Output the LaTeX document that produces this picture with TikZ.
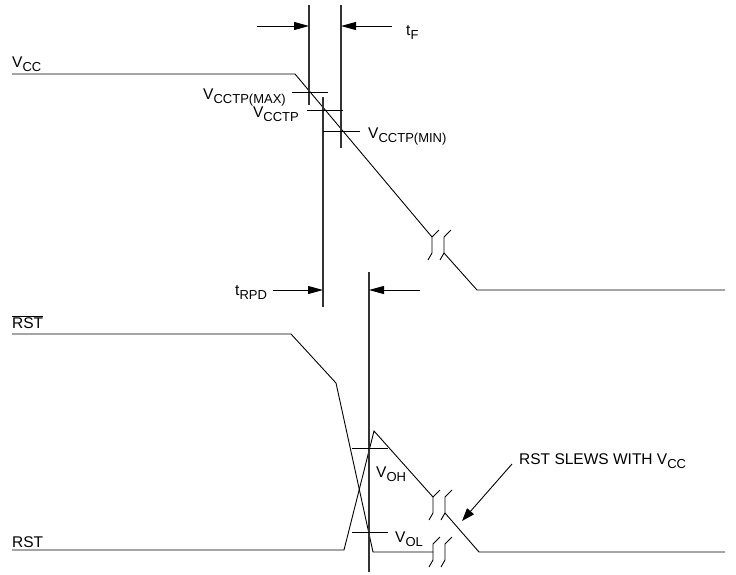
\documentclass[tikz,border=0pt]{standalone}
\usepackage{fontspec}
\setmainfont{Liberation Sans}
\usetikzlibrary{arrows.meta}
\newcommand{\sbs}[1]{\raisebox{-4pt}{\fontsize{13}{15}\selectfont #1}}
\tikzset{
  sig/.style={draw, line width=0.9pt},
  refline/.style={draw, line width=1.1pt, black!80},
  tick/.style={draw, line width=0.9pt},
  dim/.style={line width=0.9pt, -{Triangle[length=15pt, width=8pt]}},
  ptr/.style={line width=0.9pt, -{Triangle[length=13pt, width=9pt]}},
  lbl/.style={inner sep=0pt, font=\fontsize{15.5}{18}\selectfont},
  brk/.pic={\draw[line width=0.9pt] (-4,15) -- (0,8) -- (0,-8) -- (7,-15);}
}

\begin{document}
\begin{tikzpicture}[x=1pt, y=-1pt]
    \useasboundingbox (0,0) rectangle (736,574);
    % VCC
    \draw[sig] (12,74) -- (295,74) -- (432,237);
    \draw[sig] (444,253) -- (477,290) -- (725,290);
    \pic at (432,245) {brk};
    \pic at (444,245) {brk};
    % RST bar and RST
    \draw[sig] (12,334) -- (291,334) -- (336,383) -- (373,552) -- (433,552);
    \draw[sig] (12,550) -- (344,550) -- (374,431) -- (433,497);
    \draw[sig] (445,513) -- (479,552) -- (725,552);
    \pic at (433,505) {brk};
    \pic at (445,505) {brk};
    \pic at (433,552) {brk};
    \pic at (445,552) {brk};
    % reference lines
    \coordinate (fa) at (309,26);
    \coordinate (fb) at (341,26);
    \coordinate (ra) at (323,290);
    \coordinate (rb) at (369,290);
    \draw[refline] (309,5) -- (309,105);
    \draw[refline] (341,5) -- (341,148);
    \draw[refline] (323,97) -- (323,307);
    \draw[refline] (369,272) -- (369,572);
    \draw[tick] (292,92) -- (328,92);
    \draw[tick] (307,110) -- (343,110);
    \draw[tick] (323,131) -- (360,131);
    \draw[tick] (352,448) -- (388,448);
    \draw[tick] (352,532) -- (388,532);
    % labels
    \node[lbl, anchor=base east] (tpmax) at (286,99) {V\sbs{CCTP(MAX)}};
    \node[lbl, anchor=base east] (tp) at (299,117) {V\sbs{CCTP}};
    \node[lbl, anchor=base west] (tpmin) at (368,138) {V\sbs{CCTP(MIN)}};
    \node[lbl, anchor=base west] (vcc) at (12,67) {V\sbs{CC}};
    \node[lbl, anchor=base west] (tf) at (406,35) {t\sbs{F}};
    \node[lbl, anchor=base west] (trpd) at (235,295) {t\sbs{RPD}};
    \node[lbl, anchor=base west] (rstb) at (12,328) {$\overline{\mbox{RST}}$};
    \node[lbl, anchor=base west] (rst) at (12,547) {RST};
    \node[lbl, anchor=base west] (voh) at (376,477) {V\sbs{OH}};
    \node[lbl, anchor=base west] (vol) at (395,542) {V\sbs{OL}};
    \node[lbl, anchor=base west] (slew) at (519,464) {RST SLEWS WITH V\sbs{CC}};
    \coordinate (slewtip) at (462,521);
    % arrows
    \draw[dim] (257,26) -- (fa);
    \draw[dim] (392,26) -- (fb);
    \draw[dim] (273,290) -- (ra);
    \draw[dim] (420,290) -- (rb);
    \draw[ptr] ([xshift=-7pt]slew.base west) -- (slewtip);
\end{tikzpicture}
\end{document}
